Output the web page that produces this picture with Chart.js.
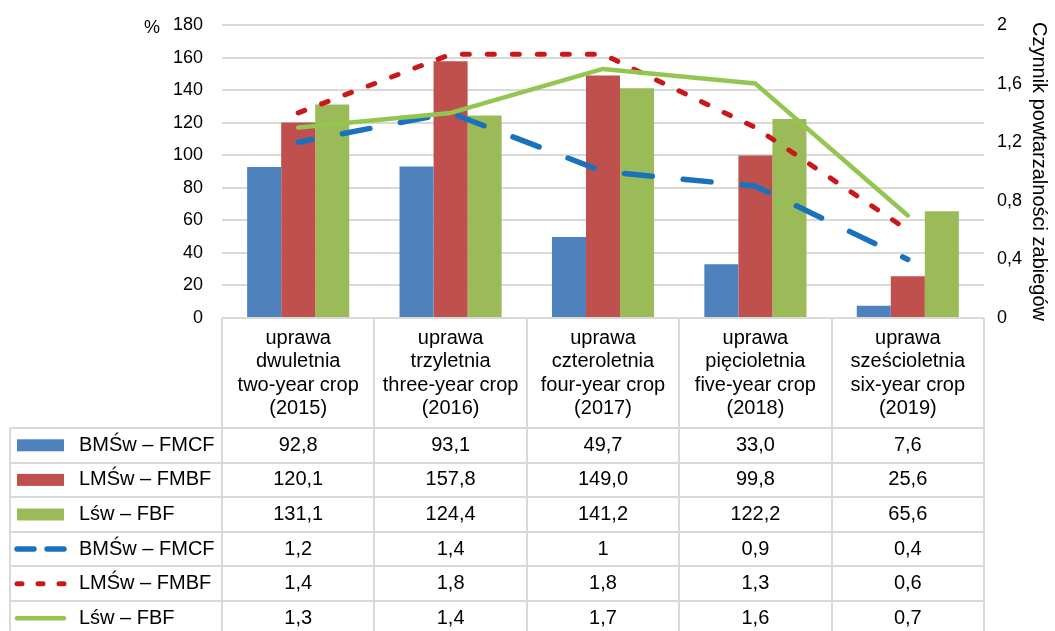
<!DOCTYPE html>
<html>
<head>
<meta charset="utf-8">
<script src="https://cdn.jsdelivr.net/npm/chart.js@4.4.1/dist/chart.umd.min.js"></script>
<style>
  html, body { margin: 0; padding: 0; background: #ffffff; }
  #wrap { width: 1055px; height: 631px; position: relative; }
</style>
</head>
<body>
<div id="wrap"><canvas id="c" width="1055" height="631"></canvas></div>
<script>
// Category headings (one array of lines per column)
const categories = [
  ['uprawa', 'dwuletnia', 'two-year crop', '(2015)'],
  ['uprawa', 'trzyletnia', 'three-year crop', '(2016)'],
  ['uprawa', 'czteroletnia', 'four-year crop', '(2017)'],
  ['uprawa', 'pięcioletnia', 'five-year crop', '(2018)'],
  ['uprawa', 'sześcioletnia', 'six-year crop', '(2019)']
];

// Bar series, %
const bmswPct = [92.8, 93.1, 49.7, 33.0, 7.6];
const lmswPct = [120.1, 157.8, 149.0, 99.8, 25.6];
const lswPct  = [131.1, 124.4, 141.2, 122.2, 65.6];

// Line series, repeatability factor
const bmswFactor = [1.2, 1.4, 1.0, 0.9, 0.4];
const lmswFactor = [1.4, 1.8, 1.8, 1.3, 0.6];
const lswFactor  = [1.3, 1.4, 1.7, 1.6, 0.7];

const seriesNames = ['BMŚw – FMCF', 'LMŚw – FMBF', 'Lśw – FBF'];
const leftTicks = [0, 20, 40, 60, 80, 100, 120, 140, 160, 180];
const rightTicks = [0, 0.4, 0.8, 1.2, 1.6, 2];

const FONT = "'Liberation Sans', Arial, sans-serif";
const TEXT = '#000000';
const RULE = '#d9d9d9';

const fmtComma = v => String(+(+v).toFixed(1)).replace('.', ',');

// Dash patterns used for the small swatches in the table's key column
const keyDash = { 3: [17, 13], 4: [5, 16], 5: [] };

const dataTable = {
  id: 'dataTable',
  afterDraw(chart) {
    const { ctx, chartArea } = chart;
    const xs = chart.scales.x;
    const n = categories.length;
    const colW = (chartArea.right - chartArea.left) / n;
    const top = chartArea.bottom;
    const headBottom = top + 110;
    const rowH = 34.6;
    const keyLeft = 10;
    const sets = chart.data.datasets;
    const tableBottom = headBottom + rowH * sets.length;

    ctx.save();
    ctx.strokeStyle = RULE;
    ctx.lineWidth = 2;
    // table frame
    ctx.beginPath();
    ctx.moveTo(chartArea.left, top); ctx.lineTo(chartArea.right, top);
    for (let i = 0; i <= n; i++) {
      const bx = Math.round(chartArea.left + i * colW);
      ctx.moveTo(bx, top); ctx.lineTo(bx, tableBottom);
    }
    ctx.moveTo(keyLeft, headBottom); ctx.lineTo(keyLeft, tableBottom);
    for (let r = 0; r <= sets.length; r++) {
      const y = Math.round(headBottom + r * rowH);
      ctx.moveTo(keyLeft, y); ctx.lineTo(chartArea.right, y);
    }
    ctx.stroke();

    // column headings
    ctx.fillStyle = TEXT;
    ctx.font = '20px ' + FONT;
    ctx.textAlign = 'center';
    ctx.textBaseline = 'middle';
    categories.forEach((lines, i) => {
      const cx = xs.getPixelForValue(i);
      lines.forEach((t, k) => ctx.fillText(t, cx, top + 20 + k * 23.6));
    });

    // rows: key + values
    sets.forEach((ds, r) => {
      const cy = headBottom + r * rowH + rowH / 2;
      if (ds.type === 'bar') {
        ctx.fillStyle = ds.backgroundColor;
        ctx.fillRect(17, cy - 6, 47, 12);
      } else {
        ctx.save();
        ctx.strokeStyle = ds.borderColor;
        ctx.lineWidth = ds.borderWidth;
        ctx.lineCap = 'round';
        ctx.setLineDash(keyDash[r] || []);
        ctx.beginPath();
        ctx.moveTo(17, cy); ctx.lineTo(64, cy);
        ctx.stroke();
        ctx.restore();
      }
      ctx.fillStyle = TEXT;
      ctx.textAlign = 'left';
      ctx.fillText(ds.label, 79, cy);
      ctx.textAlign = 'center';
      ds.data.forEach((v, i) => {
        const txt = ds.type === 'bar' ? v.toFixed(1).replace('.', ',') : fmtComma(v);
        ctx.fillText(txt, xs.getPixelForValue(i), cy);
      });
    });

    // unit label of the left axis
    ctx.textAlign = 'center';
    ctx.font = '18px ' + FONT;
    ctx.fillText('%', 152, chartArea.top + 3);
    ctx.restore();
  }
};

const labels = categories.map(c => c.join(' '));

// keep the plot area fixed: axis widths set here, label padding not added above/below
const fixAxis = w => s => { s.width = w; s.paddingTop = 0; s.paddingBottom = 0; };

new Chart(document.getElementById('c'), {
  type: 'bar',
  data: {
    labels,
    datasets: [
      { type: 'bar', label: seriesNames[0], data: bmswPct, backgroundColor: '#4f81bd', yAxisID: 'y', order: 10 },
      { type: 'bar', label: seriesNames[1], data: lmswPct, backgroundColor: '#c0504d', yAxisID: 'y', order: 10 },
      { type: 'bar', label: seriesNames[2], data: lswPct,  backgroundColor: '#9bbb59', yAxisID: 'y', order: 10 },
      { type: 'line', label: seriesNames[0], data: bmswFactor, borderColor: '#1a72bd', borderWidth: 5.5,
        borderDash: [28, 31], borderDashOffset: 14, borderCapStyle: 'round', yAxisID: 'y1', order: 3,
        pointRadius: 0, tension: 0, fill: false },
      { type: 'line', label: seriesNames[1], data: lmswFactor, borderColor: '#c9181c', borderWidth: 5,
        borderDash: [7, 18], borderCapStyle: 'round', yAxisID: 'y1', order: 2, pointRadius: 0, tension: 0, fill: false },
      { type: 'line', label: seriesNames[2], data: lswFactor, borderColor: '#92c650', borderWidth: 4.5,
        borderCapStyle: 'round', borderJoinStyle: 'round', yAxisID: 'y1', order: 1, pointRadius: 0, tension: 0, fill: false }
    ]
  },
  options: {
    responsive: false,
    animation: false,
    devicePixelRatio: 1,
    layout: { padding: { top: 25, bottom: 313, left: 0, right: 0 } },
    datasets: { bar: { categoryPercentage: 0.67, barPercentage: 1.0 } },
    plugins: { legend: { display: false }, tooltip: { enabled: false } },
    scales: {
      x: { display: false, offset: true },
      y: {
        position: 'left', min: 0, max: 180,
        afterFit: fixAxis(222),
        afterBuildTicks(s) { s.ticks = leftTicks.map(v => ({ value: v })); },
        grid: { color: RULE, lineWidth: 2, drawTicks: false },
        border: { display: false },
        ticks: { padding: 19, color: TEXT, font: { family: FONT, size: 18 } }
      },
      y1: {
        position: 'right', min: 0, max: 2,
        afterFit: fixAxis(71),
        afterBuildTicks(s) { s.ticks = rightTicks.map(v => ({ value: v })); },
        grid: { display: false, drawTicks: false },
        border: { display: false },
        ticks: { padding: 13, color: TEXT, font: { family: FONT, size: 18 }, callback: v => fmtComma(v) },
        title: { display: true, text: 'Czynnik powtarzalności zabiegów', color: TEXT,
                 font: { family: FONT, size: 20 }, padding: { top: 4, bottom: 4 } }
      }
    }
  },
  plugins: [dataTable]
});
</script>
</body>
</html>
